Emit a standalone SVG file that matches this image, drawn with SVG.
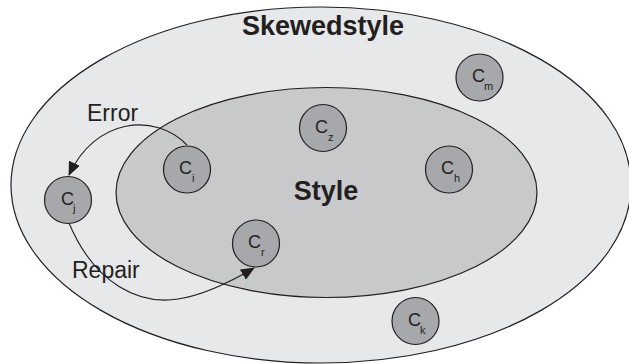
<svg xmlns="http://www.w3.org/2000/svg" width="629" height="364" viewBox="0 0 629 364">
<defs>
<style>
.reg{fill:none;stroke:#231f20;stroke-width:1.2}
.node circle{fill:#a7a8ab;stroke:#231f20;stroke-width:1.2}
.c{font-family:"Liberation Sans",Arial,sans-serif;font-size:18px;fill:#231f20}
.s{font-family:"Liberation Sans",Arial,sans-serif;font-size:11px;fill:#231f20}
.lbl{font-family:"Liberation Sans",Arial,sans-serif;font-size:23px;fill:#231f20}
.big{font-family:"Liberation Sans",Arial,sans-serif;font-size:27px;font-weight:bold;fill:#231f20;text-anchor:middle}
.edge{fill:none;stroke:#231f20;stroke-width:1.1}
</style>
<marker id="ah" viewBox="0 0 14 12" refX="13" refY="6" markerWidth="14" markerHeight="12" markerUnits="userSpaceOnUse" orient="auto">
<path d="M0,0 L14,6 L0,12 Z" fill="#231f20"/>
</marker>
</defs>
<g id="skewedstyle">
<ellipse cx="321" cy="185" rx="310" ry="178" fill="#e7e8e9" stroke="#231f20" stroke-width="1.2"/>
<text class="big" x="323" y="35">Skewedstyle</text>
</g>
<g id="style">
<ellipse cx="326.5" cy="192.5" rx="210.5" ry="105" fill="#c8c9cb" stroke="#231f20" stroke-width="1.2"/>
<text class="big" x="326" y="200">Style</text>
</g>
<g id="connectors">
<path class="edge" d="M187,145 C155,112 95,118 69,175" marker-end="url(#ah)"/>
<path class="edge" d="M69,223 C95,285 140,305 178,299 C205,295 232,281 254,268" marker-end="url(#ah)"/>
<text class="lbl" x="87" y="121">Error</text>
<text class="lbl" x="72" y="278">Repair</text>
</g>
<g id="Cm" class="node"><circle cx="479.5" cy="77.5" r="23.5"/><text class="c" x="472" y="82">C</text><text class="s" x="484" y="90">m</text></g>
<g id="Cz" class="node"><circle cx="323" cy="128" r="23.5"/><text class="c" x="315" y="133">C</text><text class="s" x="328" y="141">z</text></g>
<g id="Ci" class="node"><circle cx="187" cy="169.5" r="23.5"/><text class="c" x="179" y="174">C</text><text class="s" x="192" y="182">i</text></g>
<g id="Ch" class="node"><circle cx="449" cy="169.5" r="23.5"/><text class="c" x="441" y="174">C</text><text class="s" x="454" y="182">h</text></g>
<g id="Cj" class="node"><circle cx="68" cy="200" r="23.5"/><text class="c" x="61" y="204.5">C</text><text class="s" x="73" y="212">j</text></g>
<g id="Cr" class="node"><circle cx="256" cy="243.5" r="23.5"/><text class="c" x="248" y="248">C</text><text class="s" x="261" y="256">r</text></g>
<g id="Ck" class="node"><circle cx="415.5" cy="321" r="23.5"/><text class="c" x="408" y="326">C</text><text class="s" x="420" y="334">k</text></g>
</svg>
